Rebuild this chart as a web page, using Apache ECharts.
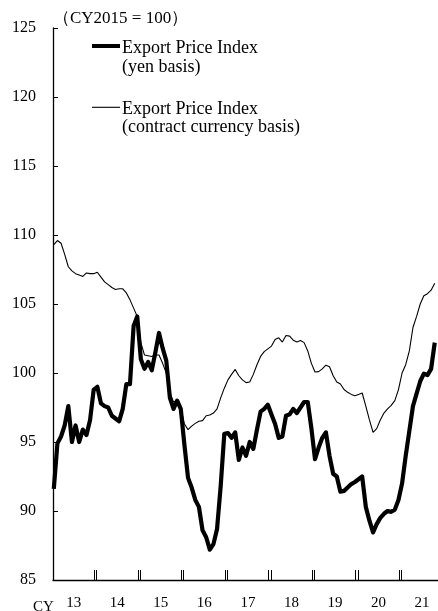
<!DOCTYPE html>
<html>
<head>
<meta charset="utf-8">
<script src="https://cdn.jsdelivr.net/npm/echarts@6/dist/echarts.min.js"></script>
<style>html,body{margin:0;padding:0;background:#fff}#c{width:438px;height:611px}</style>
</head>
<body>
<div id="c"></div>
<script>
// Monthly data, Jan 2013 .. Oct 2021 (index 0 = Jan 2013)
const yearLabels = ['13','14','15','16','17','18','19','20','21'];
const yTicks = [85, 90, 95, 100, 105, 110, 115, 120, 125];
const yenBasis = [
  91.6, 94.9, 95.4, 96.2, 97.6, 95.0, 96.2, 95.0, 95.9, 95.5, 96.6, 98.8,
  99.0, 97.8, 97.6, 97.5, 96.9, 96.7, 96.5, 97.4, 99.2, 99.2, 103.4, 104.1,
  101.0, 100.3, 100.8, 100.2, 101.5, 102.9, 101.8, 100.9, 98.2, 97.4, 98.0, 97.4,
  94.8, 92.4, 91.7, 90.8, 90.3, 88.6, 88.1, 87.2, 87.6, 88.7, 91.8, 95.6,
  95.65, 95.3, 95.7, 93.7, 94.6, 94.0, 95.0, 94.5, 95.9, 97.2, 97.4, 97.7,
  97.0, 96.3, 95.3, 95.4, 96.9, 97.0, 97.4, 97.1, 97.5, 97.9, 97.9, 96.0,
  93.75, 94.6, 95.3, 95.7, 94.0, 92.7, 92.5, 91.4, 91.46, 91.7, 91.95, 92.1,
  92.3, 92.5, 90.3, 89.3, 88.45, 89.05, 89.5, 89.8, 90.0, 89.94, 90.1, 90.8,
  92.0, 94.0, 95.8, 97.6, 98.5, 99.4, 99.95, 99.85, 100.3, 102.2
];
const contractBasis = [
  109.3, 109.6, 109.4, 108.6, 107.7, 107.4, 107.2, 107.1, 107.0, 107.25, 107.2, 107.2,
  107.3, 106.95, 106.6, 106.4, 106.2, 106.05, 106.1, 106.1, 105.8, 105.3, 104.7, 104.1,
  102.2, 101.3, 101.25, 101.2, 101.3, 101.3, 100.7, 100.0, 98.6, 97.9, 98.0, 97.5,
  96.3, 95.9, 96.15, 96.35, 96.5, 96.55, 96.9, 96.96, 97.1, 97.4, 98.2, 98.9,
  99.5, 99.9, 100.26, 99.8, 99.5, 99.3, 99.35, 99.9, 100.6, 101.2, 101.55, 101.75,
  101.95, 102.43, 102.55, 102.24, 102.72, 102.67, 102.38, 102.25, 102.35, 102.2, 101.6, 100.7,
  100.07, 100.1, 100.3, 100.57, 100.45, 99.8, 99.35, 99.2, 98.8, 98.6, 98.45, 98.35,
  98.45, 98.55, 97.6, 96.6, 95.7, 95.97, 96.6, 97.1, 97.4, 97.65, 98.0, 98.8,
  100.0, 100.6, 101.6, 103.3, 104.1, 105.0, 105.6, 105.75, 106.0, 106.5
];

const toXY = arr => arr.map((v, i) => [i + 0.5, v]);
const boundaryTicks = [];
for (let k = 1; k < yearLabels.length; k++) { boundaryTicks.push(12 * k - 0.3, 12 * k + 0.3); }
const labelPos = yearLabels.map((_, k) => 12 * k + 6);
const FONT = "'Liberation Serif', 'Times New Roman', serif";

const chart = echarts.init(document.getElementById('c'), null, {renderer: 'canvas'});
chart.setOption({
  animation: false,
  backgroundColor: '#fff',
  grid: {left: 53, right: 0, top: 28, bottom: 30, containLabel: false},
  xAxis: {
    type: 'value', min: 0.28, max: 106.4,
    splitLine: {show: false},
    axisLine: {show: true, onZero: false, lineStyle: {color: '#000', width: 1.3}},
    axisTick: {show: true, inside: true, length: 10, customValues: boundaryTicks, lineStyle: {color: '#000', width: 1}},
    axisLabel: {
      show: true, customValues: labelPos, margin: 16, color: '#000',
      fontFamily: FONT, fontSize: 15,
      formatter: v => yearLabels[Math.floor(v / 12)]
    }
  },
  yAxis: {
    type: 'value', min: yTicks[0], max: yTicks[yTicks.length - 1], interval: 5,
    splitLine: {show: false},
    axisLine: {show: true, lineStyle: {color: '#000', width: 1.3}},
    axisTick: {show: true, inside: true, length: 5, lineStyle: {color: '#000', width: 1}},
    axisLabel: {color: '#000', fontFamily: FONT, fontSize: 16, margin: 17}
  },
  series: [
    {
      name: 'Export Price Index (yen basis)', type: 'line', data: toXY(yenBasis),
      showSymbol: false, symbol: 'none',
      lineStyle: {color: '#000', width: 4.2, join: 'round'}, z: 2
    },
    {
      name: 'Export Price Index (contract currency basis)', type: 'line', data: toXY(contractBasis),
      showSymbol: false, symbol: 'none',
      lineStyle: {color: '#000', width: 1.1}, z: 3
    }
  ],
  graphic: [
    {type: 'text', x: 53, y: 18.5, style: {text: '（CY2015 = 100）', font: "17px " + FONT, fill: '#000', verticalAlign: 'middle'}},
    {type: 'text', x: 33, y: 607, style: {text: 'CY', font: "15px " + FONT, fill: '#000', verticalAlign: 'middle'}},
    {type: 'line', shape: {x1: 92, y1: 46, x2: 120, y2: 46}, style: {stroke: '#000', lineWidth: 4}},
    {type: 'text', x: 122, y: 48.3, style: {text: 'Export Price Index', font: "18px " + FONT, fill: '#000', verticalAlign: 'middle'}},
    {type: 'text', x: 122, y: 67.6, style: {text: '(yen basis)', font: "18px " + FONT, fill: '#000', verticalAlign: 'middle'}},
    {type: 'line', shape: {x1: 92, y1: 107.3, x2: 120, y2: 107.3}, style: {stroke: '#000', lineWidth: 1.1}},
    {type: 'text', x: 122, y: 109.5, style: {text: 'Export Price Index', font: "18px " + FONT, fill: '#000', verticalAlign: 'middle'}},
    {type: 'text', x: 122, y: 127, style: {text: '(contract currency basis)', font: "18px " + FONT, fill: '#000', verticalAlign: 'middle'}}
  ]
});
</script>
</body>
</html>
